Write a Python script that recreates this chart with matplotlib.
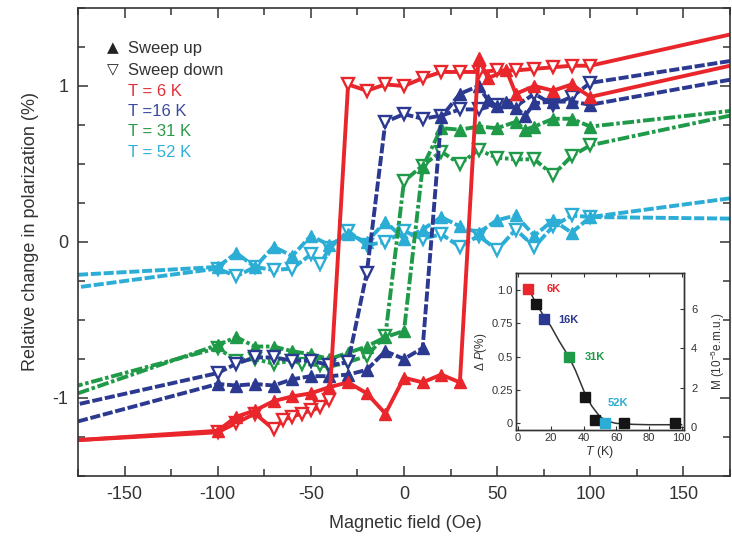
import matplotlib
matplotlib.use('Agg')
import matplotlib.pyplot as plt
from matplotlib.ticker import MultipleLocator, FixedLocator

plt.rcParams['font.family'] = ['Liberation Sans', 'DejaVu Sans']
plt.rcParams['axes.unicode_minus'] = False
plt.rcParams['mathtext.fontset'] = 'custom'
plt.rcParams['mathtext.rm'] = 'Liberation Sans'
plt.rcParams['mathtext.it'] = 'Liberation Sans:italic'

# ---------------- data (main panel) ----------------
red_up_H = [-175, -100, -90, -80, -70, -60, -50, -40, -30, -20, -10, 0, 10, 20, 30, 40, 45, 55, 60, 70, 80, 90, 100, 175]
red_up_P = [-1.27, -1.21, -1.12, -1.08, -1.02, -0.99, -0.97, -0.93, -0.90, -0.97, -1.10, -0.87, -0.90, -0.85, -0.90,
            1.18, 1.05, 1.10, 0.95, 1.00, 0.97, 1.01, 0.93, 1.13]
red_dn_H = [175, 100, 90, 80, 70, 60, 50, 40, 30, 20, 10, 0, -10, -20, -30, -40, -45, -50, -55, -60, -65, -70, -80, -90, -100, -175]
red_dn_P = [1.33, 1.13, 1.13, 1.12, 1.11, 1.10, 1.10, 1.09, 1.09, 1.09, 1.05, 1.00, 1.01, 0.97, 1.01,
            -1.01, -1.06, -1.08, -1.10, -1.12, -1.14, -1.20, -1.10, -1.16, -1.22, -1.27]

blue_up_H = [-175, -100, -90, -80, -70, -60, -50, -40, -30, -20, -10, 0, 10, 20, 30, 40, 45, 50, 55, 60, 65, 70, 80, 90, 100, 175]
blue_up_P = [-1.15, -0.91, -0.92, -0.91, -0.92, -0.88, -0.86, -0.86, -0.85, -0.82, -0.70, -0.75, -0.68,
             0.80, 0.95, 1.00, 0.91, 0.87, 0.90, 0.86, 0.81, 0.89, 0.90, 0.90, 0.88, 1.04]
blue_dn_H = [175, 100, 90, 80, 70, 60, 50, 40, 30, 20, 10, 0, -10, -20, -30, -40, -50, -60, -70, -80, -90, -100, -175]
blue_dn_P = [1.16, 1.02, 0.93, 0.88, 0.95, 0.87, 0.88, 0.85, 0.85, 0.81, 0.79, 0.82, 0.77, -0.20, -0.77,
             -0.79, -0.76, -0.76, -0.74, -0.74, -0.78, -0.84, -1.04]

green_up_H = [-175, -100, -90, -80, -70, -60, -50, -40, -30, -20, -10, 0, 10, 20, 30, 40, 50, 60, 65, 70, 80, 90, 100, 175]
green_up_P = [-0.97, -0.66, -0.61, -0.67, -0.67, -0.70, -0.72, -0.75, -0.71, -0.67, -0.61, -0.57, 0.48,
              0.73, 0.72, 0.74, 0.73, 0.77, 0.72, 0.74, 0.79, 0.79, 0.74, 0.84]
green_dn_H = [175, 100, 90, 80, 70, 60, 50, 40, 30, 20, 10, 0, -10, -20, -30, -40, -45, -55, -60, -70, -80, -90, -100, -175]
green_dn_P = [0.81, 0.62, 0.55, 0.43, 0.53, 0.53, 0.54, 0.59, 0.50, 0.58, 0.49, 0.39, -0.60, -0.73, -0.77,
              -0.80, -0.79, -0.78, -0.76, -0.78, -0.75, -0.76, -0.68, -0.92]

cyan_up_H = [-175, -100, -90, -80, -70, -60, -50, -40, -30, -20, -10, 0, 10, 20, 30, 40, 50, 60, 70, 80, 90, 100, 175]
cyan_up_P = [-0.21, -0.16, -0.07, -0.16, -0.03, -0.09, 0.04, -0.02, 0.05, 0.00, 0.13, 0.02, 0.08, 0.16,
             0.10, 0.06, 0.14, 0.17, 0.04, 0.14, 0.06, 0.16, 0.15]
cyan_dn_H = [175, 100, 90, 80, 70, 60, 50, 40, 30, 20, 10, 0, -10, -20, -30, -40, -45, -50, -60, -70, -80, -90, -100, -175]
cyan_dn_P = [0.28, 0.16, 0.17, 0.10, -0.03, 0.08, -0.05, 0.04, -0.03, 0.05, 0.02, 0.07, 0.00, -0.02, 0.07,
             -0.04, -0.14, -0.08, -0.17, -0.18, -0.16, -0.22, -0.17, -0.29]

legend_labels = ['T = 6 K', 'T =16 K', 'T = 31 K', 'T = 52 K']

# ---------------- data (inset) ----------------
inset_T = [6, 11, 16, 31, 41, 47, 53, 65, 96]
inset_dP = [1.01, 0.895, 0.78, 0.50, 0.20, 0.025, 0.0, 0.0, 0.0]
inset_kind = ['6K', 'k', '16K', '31K', 'k', 'k', '52K', 'k', 'k']
M_T = [6, 11, 16, 20, 25, 31, 35, 41, 45, 50, 55, 60, 70, 80, 90, 100]
M_val = [7.11, 6.29, 5.61, 5.14, 4.39, 3.57, 2.89, 1.67, 1.06, 0.51, 0.27, 0.17, 0.12, 0.10, 0.10, 0.10]
inset_lbl_T = [21.5, 30.5, 47, 61]
inset_lbl_P = [1.01, 0.776, 0.50, 0.15]
inset_lbl = ['6K', '16K', '31K', '52K']

# ---------------- style ----------------
RED = '#e8262b'
BLUE = '#2b3990'
GREEN = '#1f9a48'
CYAN = '#2badd6'
SPINE = '#333333'
lbl_colors = ['#e0303a', '#3a4aa0', '#2a9a4a', '#30b0d8']
kind_color = {'6K': RED, '16K': BLUE, '31K': GREEN, '52K': CYAN, 'k': '#151515'}

W, H = 732, 536
fig = plt.figure(figsize=(W / 100, H / 100), dpi=100)
ax = fig.add_axes([78 / W, (H - 476) / H, (730 - 78) / W, (476 - 8) / H])

LW = 2.8
MS = 9
styles = {
    'red': '-',
    'blue': (0, (2.6, 0.7)),
    'green': (0, (3.0, 0.7, 0.9, 0.7)),
    'cyan': (0, (2.6, 0.7)),
}

series = [
    ('cyan', CYAN, cyan_up_H, cyan_up_P, cyan_dn_H, cyan_dn_P),
    ('green', GREEN, green_up_H, green_up_P, green_dn_H, green_dn_P),
    ('blue', BLUE, blue_up_H, blue_up_P, blue_dn_H, blue_dn_P),
    ('red', RED, red_up_H, red_up_P, red_dn_H, red_dn_P),
]

for name, c, uh, up, dh, dp in series:
    ls = styles[name]
    ax.plot(dh, dp, color=c, lw=LW, ls=ls, solid_capstyle='butt', dash_capstyle='butt')
    ax.plot(dh[1:-1], dp[1:-1], ls='none', marker='v', ms=MS, mfc='white', mec=c, mew=1.7)
    ax.plot(uh, up, color=c, lw=LW, ls=ls, solid_capstyle='butt', dash_capstyle='butt')
    ax.plot(uh[1:-1], up[1:-1], ls='none', marker='^', ms=MS, mfc=c, mec=c, mew=1.0)

ax.set_xlim(-175, 175)
ax.set_ylim(-1.5, 1.5)
ax.xaxis.set_minor_locator(MultipleLocator(25))
ax.yaxis.set_minor_locator(MultipleLocator(0.25))
ax.set_xticks([-150, -100, -50, 0, 50, 100, 150])
ax.set_xticklabels(['-150', '-100', '-50', '0', '50', '100', '150'])
ax.set_yticks([-1, 0, 1])
ax.set_yticklabels(['-1', '0', '1'])
ax.tick_params(which='both', direction='in', top=True, right=True, color=SPINE, width=1.1,
               labelsize=13, labelcolor='#333333')
ax.tick_params(which='major', length=7, pad=7)
ax.tick_params(which='minor', length=5)
for s in ax.spines.values():
    s.set_color(SPINE)
    s.set_linewidth(1.2)

fig.text(405 / W, 1 - 523 / H, 'Magnetic field (Oe)', ha='center', va='center', fontsize=13, color='#333333')
fig.text(31 / W, 1 - 232 / H, 'Relative change in polarization (%)', ha='center', va='center',
         rotation=90, fontsize=13, color='#333333')

# legend texts
fig.text(107 / W, 1 - 48 / H, '\u25B2', ha='left', va='center', fontsize=11, color='#222222',
         family=['DejaVu Sans'])
fig.text(128 / W, 1 - 48 / H, 'Sweep up', ha='left', va='center', fontsize=12, color='#333333')
fig.text(107 / W, 1 - 70 / H, '\u25BD', ha='left', va='center', fontsize=11, color='#222222',
         family=['DejaVu Sans'])
fig.text(128 / W, 1 - 70 / H, 'Sweep down', ha='left', va='center', fontsize=12, color='#333333')
for i, (lab, lc) in enumerate(zip(legend_labels, lbl_colors)):
    fig.text(128 / W, 1 - (91 + 20.5 * i) / H, lab, ha='left', va='center', fontsize=12, color=lc)

# ---------------- inset ----------------
ax_in = fig.add_axes([515.7 / W, (H - 430) / H, 168.3 / W, 157.3 / H])
ax_m = ax_in.twinx()
ax_m.set_zorder(5)
ax_in.set_zorder(6)
ax_m.patch.set_visible(True)
ax_m.patch.set_facecolor('white')
ax_in.patch.set_visible(False)

ax_m.plot(M_T, M_val, color='#333333', lw=1.1)
ax_m.set_ylim(-0.17, 7.87)
ax_m.set_yticks([0, 2, 4, 6])
ax_m.tick_params(direction='in', length=3, labelsize=8, pad=5, color=SPINE, labelcolor='#333333')
ax_m.set_ylabel('M (10$^{-5}$e.m.u.)', fontsize=8.5, labelpad=8, color='#333333')

for t, p, k in zip(inset_T, inset_dP, inset_kind):
    ax_in.plot([t], [p], ls='none', marker='s', ms=7.5, mfc=kind_color[k], mec=kind_color[k])
for t, p, lab in zip(inset_lbl_T, inset_lbl_P, inset_lbl):
    ax_in.text(t, p, lab, ha='center', va='center', fontsize=8, color=kind_color[lab], fontweight='bold')

ax_in.set_xlim(-1.5, 101.5)
ax_in.set_ylim(-0.05, 1.13)
ax_in.set_xticks([0, 20, 40, 60, 80, 100])
ax_in.set_yticks([0, 0.25, 0.5, 0.75, 1.0])
ax_in.set_yticklabels(['0', '0.25', '0.5', '0.75', '1.0'])
ax_in.tick_params(direction='in', length=3, labelsize=8, pad=2, top=True, color=SPINE, labelcolor='#333333')
ax_in.set_xlabel('$\\mathit{T}$ (K)', fontsize=9, labelpad=1, color='#333333')
ax_in.set_ylabel('\u0394 $\\mathit{P}$(%)', fontsize=8.5, labelpad=2, color='#333333')
for a in (ax_in, ax_m):
    for s in a.spines.values():
        s.set_color(SPINE)
        s.set_linewidth(1.0)

fig.savefig('out.png', dpi=100)
